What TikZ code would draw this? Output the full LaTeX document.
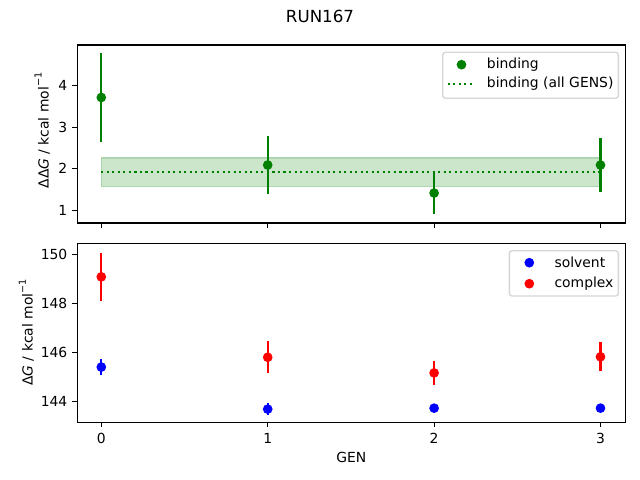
\documentclass[tikz,border=0pt]{standalone}
\usepackage{fontspec}
\setmainfont{DejaVu Sans}
\definecolor{mgreen}{RGB}{0,128,0}
\definecolor{mblue}{RGB}{0,0,255}
\definecolor{mred}{RGB}{255,0,0}
\definecolor{bandfill}{RGB}{204,230,204}
\definecolor{bandedge}{RGB}{174,214,174}
\definecolor{legedge}{RGB}{214,214,214}
\newcommand{\tenpt}{\fontsize{10bp}{12bp}\selectfont}
\newcommand{\supminus}{\raisebox{0.5em}{\fontsize{7bp}{8bp}\selectfont −1}}
\begin{document}
\begin{tikzpicture}[x=0.72bp,y=-0.72bp,
  axisframe/.style={line width=0.8bp, black},
  tickmark/.style={line width=0.8bp, black},
  ticklabel/.style={inner sep=0pt, font=\tenpt, text=black},
  errbar/.style={line width=1.5bp, #1},
  dot/.style={circle, inner sep=0pt, minimum size=7bp, fill=#1, draw=none},
  legframe/.style={draw=legedge, line width=1bp, fill=white, fill opacity=0.8, draw opacity=1, rounded corners=2bp},
  legtext/.style={inner sep=0pt, anchor=west, font=\tenpt},
  dottedline/.style={line width=1.5bp, mgreen, dash pattern=on 1.5bp off 2.475bp}
]
\useasboundingbox (0,0) rectangle (640,480);
\fill[white] (0,0) rectangle (640,480);

% title
\node[inner sep=0pt, anchor=base, font=\fontsize{12bp}{14bp}\selectfont] (title) at (320,22.7) {RUN167};

% ---------- top axes ----------
\fill[bandfill] ({101.3},{210.3-41.53*(2.26-1)}) rectangle ({101.3+166.4*3},{210.3-41.53*(1.58-1)});
\draw[bandedge, line width=1bp] ({101.3},{210.3-41.53*(2.26-1)}) rectangle ({101.3+166.4*3},{210.3-41.53*(1.58-1)});
\coordinate (bandL) at ({101.3},{210.3-41.53*(1.92-1)});
\coordinate (bandR) at ({101.3+166.4*3},{210.3-41.53*(1.92-1)});
\draw[dottedline] (bandL) -- (bandR);

\foreach \g/\v/\e in {0/3.716/1.064, 1/2.09/0.69, 2/1.416/0.51, 3/2.09/0.64} {
  \coordinate (bt\g) at ({101.3+166.4*\g},{210.3-41.53*(\v+\e-1)});
  \coordinate (bb\g) at ({101.3+166.4*\g},{210.3-41.53*(\v-\e-1)});
  \draw[errbar=mgreen] (bt\g) -- (bb\g);
  \node[dot=mgreen] (b\g) at ({101.3+166.4*\g},{210.3-41.53*(\v-1)}) {};
}

\draw[axisframe] (77.3,45) rectangle (625.5,223);
\foreach \g in {0,1,2,3} {
  \coordinate (tt\g) at ({101.3+166.4*\g},223);
  \coordinate (tu\g) at ({101.3+166.4*\g},227.86);
  \draw[tickmark] (tt\g) -- (tu\g);
}
\foreach \v in {1,2,3,4} {
  \coordinate (ty\v) at (77.3,{210.3-41.53*(\v-1)});
  \coordinate (tz\v) at (72.44,{210.3-41.53*(\v-1)});
  \draw[tickmark] (ty\v) -- (tz\v);
  \node[ticklabel, anchor=east] (tyl\v) at (67.6,{210.3-41.53*(\v-1)}) {\v};
}
\node[inner sep=0pt, anchor=base, rotate=90, font=\tenpt] (ylabtop) at (48.5,130.5) {ΔΔ\textit{G} / kcal mol\supminus};

% top legend
\draw[legframe] (442.7,52.3) rectangle (618.3,98.3);
\node[dot=mgreen] (legb) at (461.5,64.7) {};
\node[legtext] (legbt) at (486.7,64.7) {binding};
\coordinate (legl1) at (447.7,84);
\coordinate (legl2) at (475,84);
\draw[dottedline] (legl1) -- (legl2);
\node[legtext] (legat) at (486.7,84) {binding (all GENS)};

% ---------- bottom axes ----------
\foreach \g/\v/\e in {0/145.4/0.33, 1/143.68/0.25, 2/143.72/0.15, 3/143.72/0.15} {
  \coordinate (st\g) at ({101.3+166.4*\g},{401.3-24.45*(\v+\e-144)});
  \coordinate (sb\g) at ({101.3+166.4*\g},{401.3-24.45*(\v-\e-144)});
  \draw[errbar=mblue] (st\g) -- (sb\g);
  \node[dot=mblue] (s\g) at ({101.3+166.4*\g},{401.3-24.45*(\v-144)}) {};
}
\foreach \g/\v/\e in {0/149.09/0.98, 1/145.8/0.66, 2/145.16/0.48, 3/145.82/0.6} {
  \coordinate (ct\g) at ({101.3+166.4*\g},{401.3-24.45*(\v+\e-144)});
  \coordinate (cb\g) at ({101.3+166.4*\g},{401.3-24.45*(\v-\e-144)});
  \draw[errbar=mred] (ct\g) -- (cb\g);
  \node[dot=mred] (c\g) at ({101.3+166.4*\g},{401.3-24.45*(\v-144)}) {};
}

\draw[axisframe] (77.3,243.3) rectangle (625.5,422.3);
\foreach \g in {0,1,2,3} {
  \coordinate (bx\g) at ({101.3+166.4*\g},422.3);
  \coordinate (by\g) at ({101.3+166.4*\g},427.16);
  \draw[tickmark] (bx\g) -- (by\g);
  \node[ticklabel, anchor=north] (bxl\g) at ({101.3+166.4*\g},433.3) {\g};
}
\foreach \v in {144,146,148,150} {
  \coordinate (byy\v) at (77.3,{401.3-24.45*(\v-144)});
  \coordinate (byz\v) at (72.44,{401.3-24.45*(\v-144)});
  \draw[tickmark] (byy\v) -- (byz\v);
  \node[ticklabel, anchor=east] (byl\v) at (67.6,{401.3-24.45*(\v-144)}) {\v};
}
\node[inner sep=0pt, anchor=base, rotate=90, font=\tenpt] (ylabbot) at (32.7,332.5) {Δ\textit{G} / kcal mol\supminus};
\node[inner sep=0pt, anchor=base, font=\tenpt] (xlab) at (351.4,462.7) {GEN};

% bottom legend
\draw[legframe] (509.3,250.7) rectangle (618.3,296);
\node[dot=mblue] (legs) at (529.3,262.7) {};
\node[legtext] (legst) at (554.3,262.7) {solvent};
\node[dot=mred] (legc) at (529.3,283.7) {};
\node[legtext] (legct) at (554.3,283.7) {complex};
\end{tikzpicture}
\end{document}
